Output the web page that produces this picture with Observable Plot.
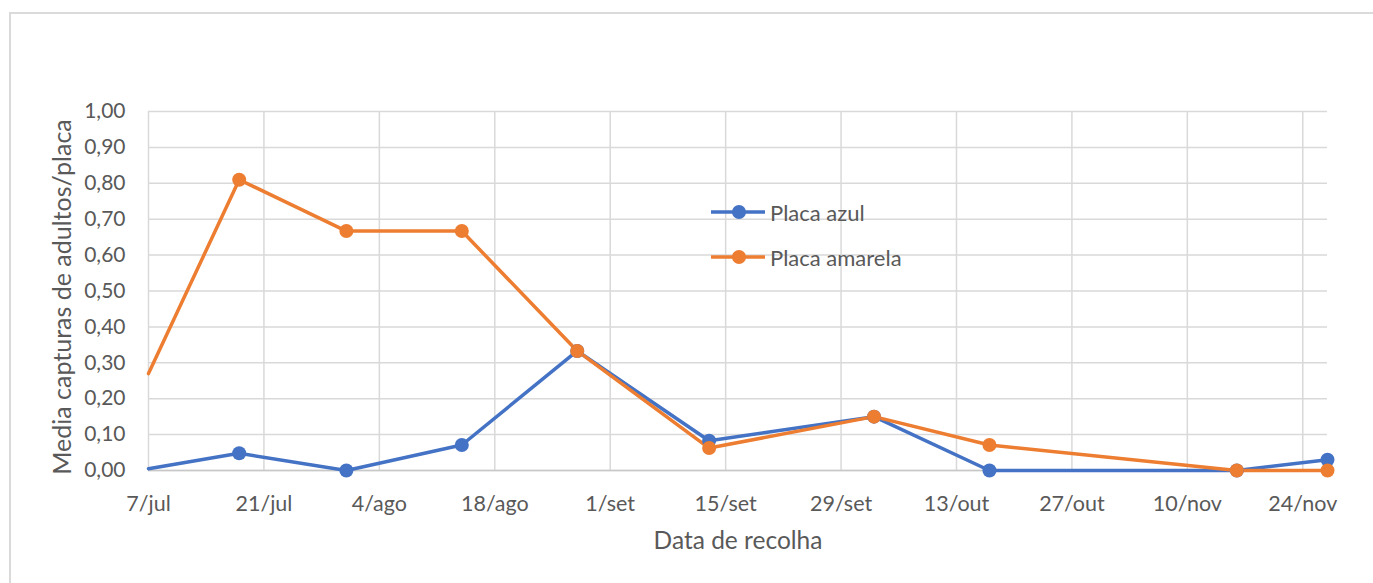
<!DOCTYPE html>
<html><head><meta charset="utf-8">
<script src="https://cdn.jsdelivr.net/npm/d3@7"></script>
<script src="https://cdn.jsdelivr.net/npm/@observablehq/plot@0.6"></script>
<style>
body{margin:0;background:#fff;}
#wrap{position:relative;width:1373px;height:583px;overflow:hidden;font-family:Lato,sans-serif;background:#fff;}
#frame{position:absolute;left:9px;top:12px;width:1400px;height:700px;border-left:2px solid #dadada;border-top:2px solid #dadada;}
#chart{position:absolute;left:0;top:0;}
.leg{position:absolute;display:flex;align-items:center;font-size:22px;color:#595959;height:24px;}
.leg span{margin-left:5px;white-space:nowrap;}
</style></head><body>
<div id="wrap"><div id="frame"></div><div id="chart"></div><div id="legend"></div></div>
<script>
// Collection dates and series values (mean adult captures per plate)
const dates = ["2021-07-07","2021-07-18","2021-07-31","2021-08-14","2021-08-28","2021-09-13","2021-10-03","2021-10-17","2021-11-16","2021-11-27"];
const placaAzul    = [0.005, 0.048, 0.000, 0.071, 0.333, 0.083, 0.150, 0.000, 0.000, 0.030];
const placaAmarela = [0.270, 0.810, 0.667, 0.667, 0.333, 0.0625, 0.150, 0.071, 0.000, 0.000];
const seriesNames  = ["Placa azul", "Placa amarela"];
const seriesColors = ["#4472C4", "#ED7D31"];
const xTickDates  = ["2021-07-07","2021-07-21","2021-08-04","2021-08-18","2021-09-01","2021-09-15","2021-09-29","2021-10-13","2021-10-27","2021-11-10","2021-11-24"];
const xTickLabels = ["7/jul","21/jul","4/ago","18/ago","1/set","15/set","29/set","13/out","27/out","10/nov","24/nov"];
const yTicks = [0,0.1,0.2,0.3,0.4,0.5,0.6,0.7,0.8,0.9,1.0];
const xDomain = ["2021-07-07","2021-11-27"];
const xTitle = "Data de recolha";
const yTitle = "Media capturas de adultos/placa";

const parse = d3.utcParse("%Y-%m-%d");
const rows = [];
[placaAzul, placaAmarela].forEach((vals, s) => {
  vals.forEach((v, i) => rows.push({serie: seriesNames[s], date: parse(dates[i]), value: v, idx: i}));
});
const tickD = xTickDates.map(parse);
const labelOf = new Map(tickD.map((d, i) => [+d, xTickLabels[i]]));

const chart = Plot.plot({
  width: 1373, height: 583,
  marginLeft: 148, marginRight: 46, marginTop: 111, marginBottom: 113,
  style: {fontFamily: "Lato, sans-serif", fontSize: "21px", color: "#595959", background: "transparent", overflow: "visible"},
  x: {type: "utc", domain: xDomain.map(parse)},
  y: {domain: [0, 1]},
  color: {domain: seriesNames, range: seriesColors},
  marks: [
    Plot.gridY(yTicks, {stroke: "#d9d9d9", strokeOpacity: 1, strokeWidth: 1.5}),
    Plot.gridX(tickD, {stroke: "#d9d9d9", strokeOpacity: 1, strokeWidth: 1.5}),
    Plot.ruleY([0], {stroke: "#c8c8c8", strokeWidth: 1.5}),
    Plot.axisY(yTicks, {tickSize: 0, tickPadding: 23, label: null, tickFormat: d => d.toFixed(2).replace(".", ","), fontSize: 21}),
    Plot.axisX(tickD, {tickSize: 0, tickPadding: 25, label: null, tickFormat: d => labelOf.get(+d), fontSize: 21.5}),
    Plot.line(rows, {x: "date", y: "value", z: "serie", stroke: "serie", strokeWidth: 3.5, curve: "linear"}),
    Plot.dot(rows.filter(r => r.idx > 0), {x: "date", y: "value", fill: "serie", r: 7, stroke: "none"}),
    Plot.text([xTitle], {frameAnchor: "bottom", dy: 71, lineAnchor: "middle", fontSize: 24.5, fill: "#595959"}),
    Plot.text([yTitle], {frameAnchor: "left", textAnchor: "middle", dx: -86, dy: 6, rotate: -90, lineAnchor: "middle", fontSize: 25, fill: "#595959"})
  ]
});
document.getElementById("chart").appendChild(chart);

const legend = document.getElementById("legend");
seriesNames.forEach((name, i) => {
  const row = document.createElement("div");
  row.className = "leg";
  row.style.left = "711px";
  row.style.top = (200 + i * 45) + "px";
  row.innerHTML = `<svg width="54" height="24"><line x1="0" x2="54" y1="12" y2="12" stroke="${seriesColors[i]}" stroke-width="3.5"/><circle cx="28" cy="12" r="7" fill="${seriesColors[i]}"/></svg><span>${name}</span>`;
  legend.appendChild(row);
});
</script>
</body></html>
